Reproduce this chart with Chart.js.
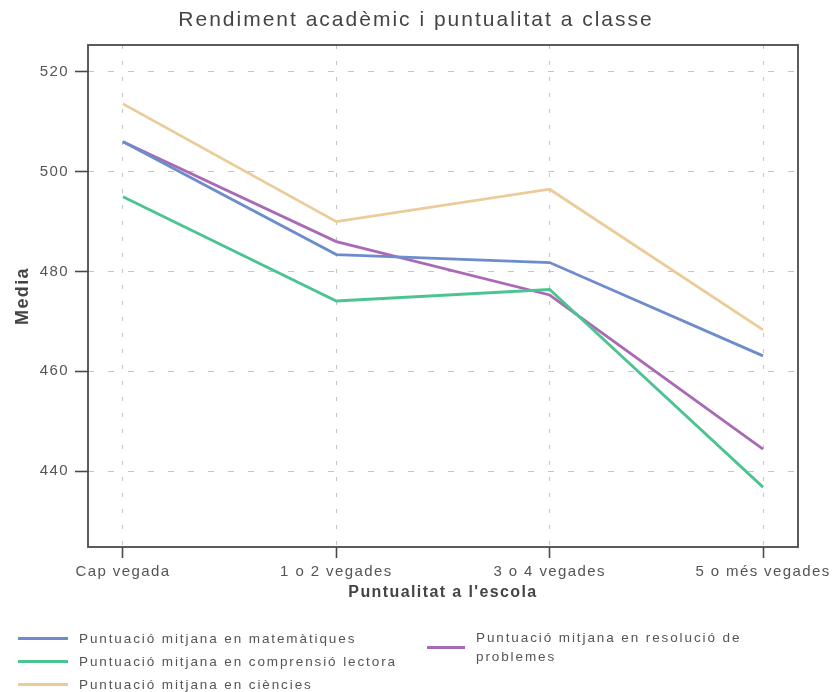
<!DOCTYPE html>
<html lang="ca">
<head>
  <meta charset="UTF-8" />
  <title>Rendiment acadèmic i puntualitat a classe</title>
  <script src="https://cdn.jsdelivr.net/npm/chart.js"></script>
  <style>
    * { box-sizing: border-box; margin: 0; padding: 0; }
    body { background: #fff; font-family: 'Liberation Sans', Arial, sans-serif; }
    .wrap { position: relative; width: 832px; height: 692px; }
    .title {
      position: absolute; left: 0; top: 7px; width: 832px;
      text-align: center; font-size: 21px; letter-spacing: 2px; color: #444;
    }
    .legend {
      position: absolute; top: 0; left: 0;
      font-size: 13.5px; letter-spacing: 1.9px; color: #555;
    }
    .item { position: absolute; white-space: nowrap; line-height: 19px; }
    .item i { position: absolute; height: 3px; display: block; }
  </style>
</head>
<body>
  <div class="wrap">
    <div class="title">Rendiment acadèmic i puntualitat a classe</div>
    <canvas id="chart" width="832" height="692"></canvas>
    <div class="legend" id="legend"></div>
  </div>

  <script>
    // categories and values
    const categories = ['Cap vegada', '1 o 2 vegades', '3 o 4 vegades', '5 o més vegades'];
    const yTicks = [440, 460, 480, 500, 520];

    const matematiques = [506.0, 483.4, 481.8, 463.1];
    const comprensio = [495.0, 474.1, 476.4, 436.8];
    const ciencies = [513.6, 490.0, 496.5, 468.3];
    const resolucio = [506.0, 486.0, 475.3, 444.4];

    const seriesNames = [
      'Puntuació mitjana en matemàtiques',
      'Puntuació mitjana en comprensió lectora',
      'Puntuació mitjana en ciències',
      'Puntuació mitjana en resolució de problemes'
    ];
    const colors = ['#6d8ccc', '#4cc491', '#ebcb97', '#a96ab5'];

    const toPoints = arr => arr.map((v, i) => ({ x: i, y: v }));

    // box round the plot + letter spacing for canvas text
    const frame = {
      id: 'frame',
      beforeUpdate(c) { c.ctx.letterSpacing = '1.4px'; },
      beforeDraw(c) { c.ctx.letterSpacing = '1.4px'; },
      afterDraw(c) {
        const a = c.chartArea, ctx = c.ctx;
        ctx.save();
        ctx.strokeStyle = '#4a4a4a';
        ctx.lineWidth = 1.8;
        ctx.strokeRect(a.left, a.top, a.right - a.left, a.bottom - a.top);
        ctx.restore();
      }
    };

    const chart = new Chart(document.getElementById('chart'), {
      type: 'line',
      data: {
        datasets: [matematiques, comprensio, ciencies, resolucio].map((d, i) => ({
          label: seriesNames[i],
          data: toPoints(d),
          borderColor: colors[i],
          backgroundColor: colors[i],
          borderWidth: 2.8,
          pointRadius: 0,
          tension: 0
        }))
      },
      options: {
        responsive: false,
        animation: false,
        layout: { padding: { top: 45, right: 34, left: 0, bottom: 0 } },
        plugins: {
          legend: { display: false },
          title: { display: false },
          tooltip: { enabled: false }
        },
        scales: {
          x: {
            type: 'linear',
            min: -0.164,
            max: 3.164,
            afterBuildTicks: s => { s.ticks = categories.map((c, i) => ({ value: i })); },
            afterFit: s => { s.height = 145; s.paddingLeft = 0; s.paddingRight = 0; },
            ticks: {
              autoSkip: false,
              maxRotation: 0,
              padding: 5,
              color: '#555',
              font: { family: 'Liberation Sans', size: 15 },
              callback: v => categories[v]
            },
            grid: {
              color: '#c4c4c4',
              lineWidth: 1,
              tickLength: 11,
              tickColor: '#4a4a4a',
              tickWidth: 1.6,
              tickBorderDash: []
            },
            border: { display: false, dash: [4, 12] },
            title: {
              display: true,
              text: "Puntualitat a l'escola",
              color: '#444',
              font: { family: 'Liberation Sans', size: 16, weight: 'bold' },
              padding: { top: 0, bottom: 90 }
            }
          },
          y: {
            min: 424.8,
            max: 525.4,
            afterBuildTicks: s => { s.ticks = yTicks.map(v => ({ value: v })); },
            afterFit: s => { s.width = 88; },
            ticks: {
              padding: 6,
              color: '#555',
              font: { family: 'Liberation Sans', size: 15 }
            },
            grid: {
              color: '#c4c4c4',
              lineWidth: 1,
              tickLength: 13,
              tickColor: '#4a4a4a',
              tickWidth: 1.6,
              tickBorderDash: []
            },
            border: { display: false, dash: [6, 14] },
            title: {
              display: true,
              text: 'Media',
              color: '#444',
              font: { family: 'Liberation Sans', size: 18, weight: 'bold' },
              padding: { top: 12, bottom: 0 }
            }
          }
        }
      },
      plugins: [frame]
    });

    // legend: three rows on the left, one wrapped item on the right
    const legendPos = [
      { x: 18, y: 629, w: 50, text: seriesNames[0] },
      { x: 18, y: 652, w: 50, text: seriesNames[1] },
      { x: 18, y: 675, w: 50, text: seriesNames[2] },
      { x: 427, y: 628, w: 38, text: 'Puntuació mitjana en resolució de<br>problemes' }
    ];
    const legend = document.getElementById('legend');
    legendPos.forEach((p, i) => {
      const el = document.createElement('div');
      el.className = 'item';
      el.style.left = p.x + 'px';
      el.style.top = p.y + 'px';
      el.style.paddingLeft = (p.w + 11) + 'px';
      const lineTop = i === 3 ? 18 : 8;
      el.innerHTML = '<i style="left:0;top:' + lineTop + 'px;width:' + p.w + 'px;background:' + colors[i] + '"></i>' + p.text;
      legend.appendChild(el);
    });
  </script>
</body>
</html>
